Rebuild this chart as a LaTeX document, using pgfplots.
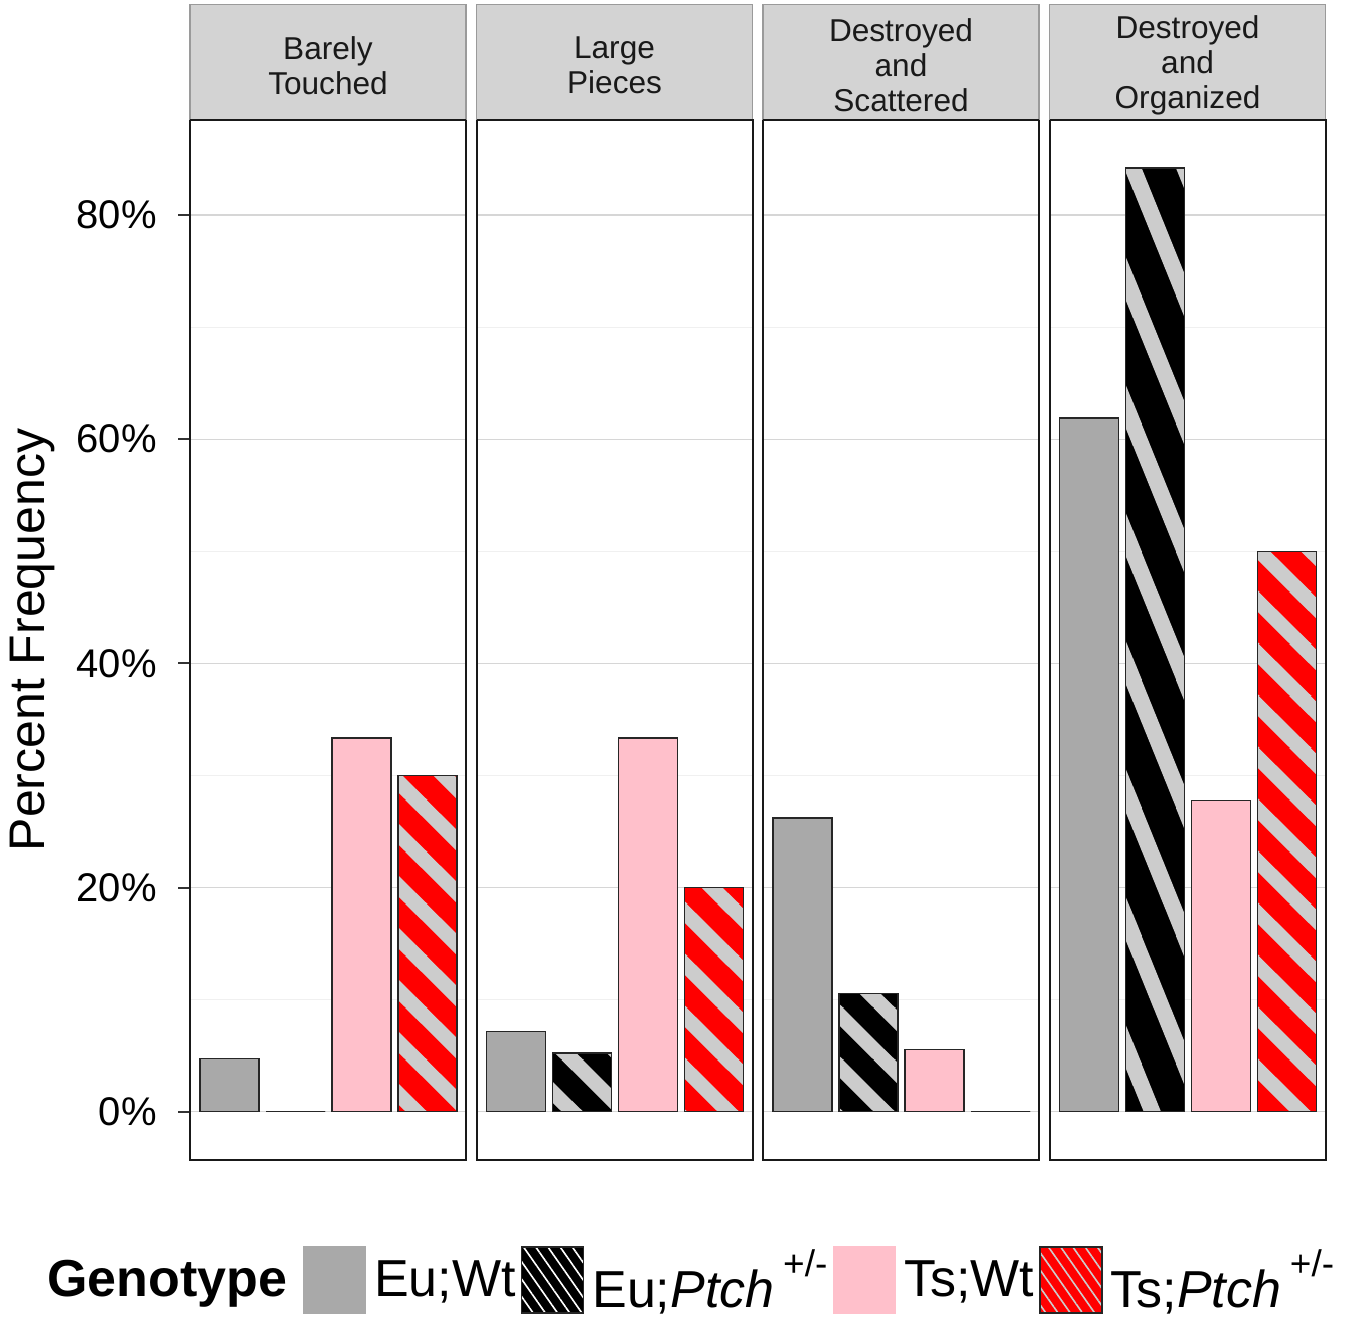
\documentclass[border=0pt]{standalone}
\usepackage{fontspec}
\setmainfont{Liberation Sans}
\usepackage{pgfplots}
\pgfplotsset{compat=1.18}
\usepgfplotslibrary{groupplots}
\usetikzlibrary{patterns.meta}
\definecolor{euwt}{HTML}{A9A9A9}
\definecolor{tswt}{HTML}{FFC0CB}
\definecolor{tsptch}{HTML}{FF0000}
\definecolor{stripe}{HTML}{CCCCCC}
\definecolor{stripfill}{HTML}{D3D3D3}
\definecolor{stripborder}{HTML}{9A9A9A}
\definecolor{gridmaj}{HTML}{D6D6D6}
\definecolor{gridmin}{HTML}{F0F0F0}
\tikzdeclarepattern{
  name=nwstripes,
  type=uncolored,
  bottom left={(0pt,0pt)},
  top right={(26pt,26pt)},
  tile size={(26pt,26pt)},
  code={
    \draw[line width=7.5pt] (-13pt,13pt) -- (13pt,-13pt);
    \draw[line width=7.5pt] (-13pt,39pt) -- (39pt,-13pt);
    \draw[line width=7.5pt] (13pt,39pt) -- (39pt,13pt);
  }
}
\tikzdeclarepattern{
  name=steepstripes,
  type=uncolored,
  bottom left={(0pt,0pt)},
  top right={(25.75pt,64pt)},
  tile size={(25.75pt,64pt)},
  code={
    \draw[line width=8pt] (-12.875pt,32pt) -- (12.875pt,-32pt);
    \draw[line width=8pt] (-12.875pt,96pt) -- (38.625pt,-32pt);
    \draw[line width=8pt] (12.875pt,96pt) -- (38.625pt,32pt);
  }
}
\pgfplotsset{
  barbase/.style={ybar, bar width=29.5pt, bar shift=0pt, draw=black!85, line width=0.75pt},
  sEuWt/.style={barbase, fill=euwt},
  sEuPt/.style={barbase, preaction={fill=black}, pattern=nwstripes, pattern color=stripe},
  sEuPtSteep/.style={barbase, preaction={fill=black}, pattern=steepstripes, pattern color=stripe},
  sTsWt/.style={barbase, fill=tswt},
  sTsPt/.style={barbase, preaction={fill=tsptch}, pattern=nwstripes, pattern color=stripe},
}
\newcommand{\stripfont}{\fontsize{15.8}{17.5}\selectfont}
\newcommand{\strip}[1]{\node[draw=stripborder, line width=0.6pt, fill=stripfill, anchor=south, minimum width=138pt, minimum height=57.5pt, inner sep=0pt] at (rel axis cs:0.5,1) {};
  \node[anchor=center, inner sep=0pt, align=center, font=\stripfont, text=black!90, yshift=27.3pt] at (rel axis cs:0.5,1) {#1};
  \draw[black!90, line width=1pt] (rel axis cs:0,1) -- (rel axis cs:1,1);}
\newcommand{\sups}{\raisebox{1.15ex}{\fontsize{18.5}{20}\selectfont +/-}}
\begin{document}
\begin{tikzpicture}
\begin{groupplot}[
  group style={group size=4 by 1, horizontal sep=5.25pt},
  width=138pt, height=520pt, scale only axis,
  xmin=0, xmax=276, ymin=-4.31, ymax=88.47,
  xtick=\empty,
  ytick={0,20,40,60,80},
  minor ytick={10,30,50,70},
  ymajorgrids, yminorgrids,
  major grid style={gridmaj, line width=0.6pt},
  minor grid style={gridmin, line width=0.5pt},
  axis line style={black!90, line width=1pt},
  tick align=outside, ytick pos=left,
  major tick length=0pt, minor tick length=0pt,
  yticklabels={},
  clip=false,
]
% ---------- panel 1
\nextgroupplot[
  major tick length=6pt,
  major tick style={black!80, line width=1pt},
  yticklabels={0\%,20\%,40\%,60\%,80\%},
  yticklabel style={font=\fontsize{20}{23}\selectfont, inner xsep=0pt, xshift=-10.5pt},
  ylabel={Percent Frequency},
  ylabel style={at={(axis description cs:-0.569,0.5)}, anchor=center, font=\fontsize{25}{30}\selectfont},
  legend columns=-1,
  legend style={at={(axis description cs:1.80,-0.1154)}, anchor=center, draw=none, fill=none,
    font=\fontsize{26}{30}\selectfont, nodes={inner xsep=0pt},
    /tikz/every odd column/.append style={column sep=4pt},
    /tikz/every even column/.append style={column sep=2.6pt}},
]
\addlegendimage{empty legend}
\addlegendentry{\textbf{Genotype}\kern5pt}
\addplot[sEuWt, legend image code/.code={\fill[euwt] (0pt,-16.5pt) rectangle (31pt,16.5pt);}] coordinates {(39.5,4.76)};
\addlegendentry{Eu;Wt}
\addplot[sEuPt, legend image code/.code={\fill[black] (0pt,-16.5pt) rectangle (31pt,16.5pt);
   \fill[pattern={Lines[angle=-55,distance=5pt,line width=0.8pt]}, pattern color=white] (0pt,-16.5pt) rectangle (31pt,16.5pt);}] coordinates {(105.5,0)};
\addlegendentry{Eu;\textit{Ptch}\,\sups}
\addplot[sTsWt, legend image code/.code={\fill[tswt] (0pt,-16.5pt) rectangle (31pt,16.5pt);}] coordinates {(171.5,33.33)};
\addlegendentry{Ts;Wt}
\addplot[sTsPt, legend image code/.code={\fill[tsptch] (0pt,-16.5pt) rectangle (31pt,16.5pt);
   \fill[pattern={Lines[angle=-55,distance=5pt,line width=0.8pt]}, pattern color=stripe] (0pt,-16.5pt) rectangle (31pt,16.5pt);}] coordinates {(237.5,30)};
\addlegendentry{Ts;\textit{Ptch}\,\sups}
\strip{Barely\\Touched}
\path (axis description cs:-0.6884,-0.149) rectangle (axis description cs:4.239,1.1154);
% ---------- panel 2
\nextgroupplot
\addplot[sEuWt] coordinates {(39.5,7.14)};
\addplot[sEuPt] coordinates {(105.5,5.26)};
\addplot[sTsWt] coordinates {(171.5,33.33)};
\addplot[sTsPt] coordinates {(237.5,20)};
\strip{Large\\Pieces}
% ---------- panel 3
\nextgroupplot
\addplot[sEuWt] coordinates {(39.5,26.19)};
\addplot[sEuPt] coordinates {(105.5,10.53)};
\addplot[sTsWt] coordinates {(171.5,5.56)};
\addplot[sTsPt] coordinates {(237.5,0)};
\strip{Destroyed\\and\\Scattered}
% ---------- panel 4
\nextgroupplot
\addplot[sEuWt] coordinates {(39.5,61.90)};
\addplot[sEuPtSteep] coordinates {(105.5,84.21)};
\addplot[sTsWt] coordinates {(171.5,27.78)};
\addplot[sTsPt] coordinates {(237.5,50)};
\strip{Destroyed\\and\\Organized}
\end{groupplot}
\end{tikzpicture}
\end{document}
